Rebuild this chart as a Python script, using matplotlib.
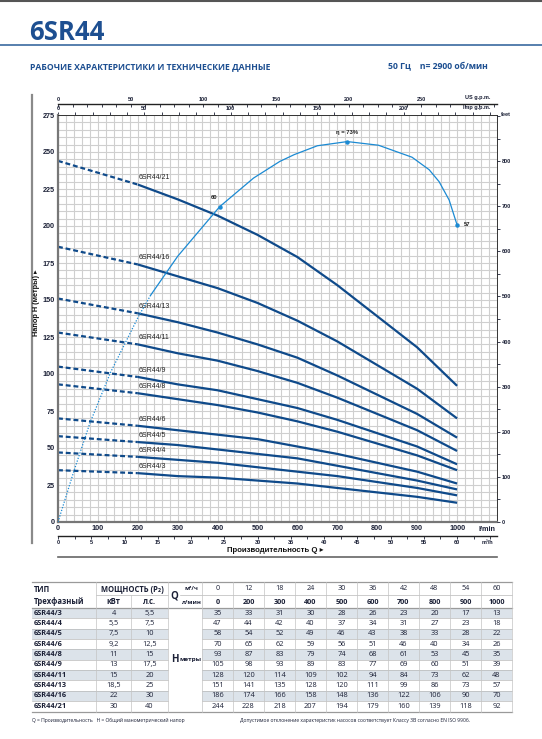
import matplotlib
matplotlib.use('Agg')
import matplotlib.pyplot as plt
from matplotlib.ticker import MultipleLocator
import numpy as np

plt.rcParams['font.family'] = ['Liberation Sans Narrow', 'Liberation Sans', 'DejaVu Sans']

# данные из таблицы
models = ['6SR44/3', '6SR44/4', '6SR44/5', '6SR44/6', '6SR44/8',
          '6SR44/9', '6SR44/11', '6SR44/13', '6SR44/16', '6SR44/21']
power_kw = ['4', '5,5', '7,5', '9,2', '11', '13', '15', '18,5', '22', '30']
power_hp = ['5,5', '7,5', '10', '12,5', '15', '17,5', '20', '25', '30', '40']
q_m3h = [0, 12, 18, 24, 30, 36, 42, 48, 54, 60]
q_lmin = [0, 200, 300, 400, 500, 600, 700, 800, 900, 1000]
heads = [
    [35, 33, 31, 30, 28, 26, 23, 20, 17, 13],
    [47, 44, 42, 40, 37, 34, 31, 27, 23, 18],
    [58, 54, 52, 49, 46, 43, 38, 33, 28, 22],
    [70, 65, 62, 59, 56, 51, 46, 40, 34, 26],
    [93, 87, 83, 79, 74, 68, 61, 53, 45, 35],
    [105, 98, 93, 89, 83, 77, 69, 60, 51, 39],
    [128, 120, 114, 109, 102, 94, 84, 73, 62, 48],
    [151, 141, 135, 128, 120, 111, 99, 86, 73, 57],
    [186, 174, 166, 158, 148, 136, 122, 106, 90, 70],
    [244, 228, 218, 207, 194, 179, 160, 139, 118, 92],
]

# кривая КПД
eff_q = [0, 40, 80, 131, 202, 232, 300, 405, 490, 556, 592, 650, 725, 803, 887, 930, 955, 980, 1000]
eff_v = [0, 9.8, 19, 28.6, 39.5, 43.5, 51, 60.5, 66, 69.2, 70.5, 72.2, 73, 72.3, 70, 67.6, 65.3, 61.8, 57]
eff_marks_q = [405, 725, 1000]
eff_marks_v = [60.5, 73, 57]
eff_marks_txt = ['60', 'η = 73%', '57']

BLUE = '#0f4a8a'
LBLUE = '#1b8ad3'
TXT = '#1b2036'
HEAD = '#1d4f91'

fig = plt.figure(figsize=(5.42, 7.39), dpi=100)

# фон страницы в пикселях
page = fig.add_axes([0, 0, 1, 1])
page.set_xlim(0, 542)
page.set_ylim(739, 0)
page.axis('off')

page.plot([0, 542], [0.8, 0.8], color='#555555', lw=1.5)
page.text(29, 40, '6SR44', fontsize=18.5, fontweight='bold', color=HEAD,
          family=['Open Sans', 'DejaVu Sans'], va='baseline')
page.plot([0, 542], [44.5, 44.5], color='#3a6aa0', lw=1.2)
page.text(30, 67, 'РАБОЧИЕ ХАРАКТЕРИСТИКИ И ТЕХНИЧЕСКИЕ ДАННЫЕ', fontsize=6.2,
          fontweight='bold', color=HEAD, family=['Open Sans', 'DejaVu Sans'], va='center')
page.text(488, 67, '50 Гц    n= 2900 об/мин', fontsize=6.2, fontweight='bold', color=HEAD,
          family=['Open Sans', 'DejaVu Sans'], va='center', ha='right')
page.plot([32, 32], [95, 543], color='#8a8a8a', lw=1.6)

# основная область графика
ax = fig.add_axes([58 / 542, 1 - 522 / 739, 439 / 542, 407 / 739])
ax.set_xlim(0, 1100)
ax.set_ylim(0, 275)
ax.set_xticks(np.arange(0, 1001, 100))
ax.set_yticks(np.arange(0, 276, 25))
ax.xaxis.set_minor_locator(MultipleLocator(20))
ax.yaxis.set_minor_locator(MultipleLocator(5))
ax.grid(which='both', color='#cfcfcf', lw=0.8)
ax.set_axisbelow(True)
ax.tick_params(which='both', length=0)
ax.tick_params(axis='both', labelsize=5.2, pad=2.5, colors=TXT)
for lab in ax.get_xticklabels() + ax.get_yticklabels():
    lab.set_fontweight('bold')
for s in ['left', 'bottom']:
    ax.spines[s].set_color('#777777')
    ax.spines[s].set_linewidth(1.6)
for s in ['top', 'right']:
    ax.spines[s].set_color('#333333')
    ax.spines[s].set_linewidth(0.7)

for name, h in zip(models, heads):
    ax.plot(q_lmin[:2], h[:2], color=BLUE, lw=1.6, dashes=(2.2, 1.3))
    ax.plot(q_lmin[1:], h[1:], color=BLUE, lw=1.6, solid_capstyle='butt', solid_joinstyle='round')
    ax.text(203, h[1] + 2.2, name, fontsize=5, color='#222222', va='bottom', ha='left')

# КПД на своей шкале
ax_eff = ax.twinx()
ax_eff.set_ylim(0, 78.1)
ax_eff.axis('off')
k = eff_q.index(232)
ax_eff.plot(eff_q[:k + 1], eff_v[:k + 1], color=LBLUE, lw=0.9, ls=(0, (1, 1.3)))
ax_eff.plot(eff_q[k:], eff_v[k:], color=LBLUE, lw=0.9, solid_joinstyle='round')
ax_eff.plot(eff_marks_q, eff_marks_v, 'o', color=LBLUE, ms=2.2)
ax_eff.text(eff_marks_q[0] - 5, eff_marks_v[0] + 1.3, eff_marks_txt[0], fontsize=4.2,
            fontweight='bold', ha='right', va='bottom', color='#222222')
ax_eff.text(eff_marks_q[1], eff_marks_v[1] + 1.3, eff_marks_txt[1], fontsize=4.2,
            fontweight='bold', ha='center', va='bottom', color='#222222')
ax_eff.text(eff_marks_q[2] + 18, eff_marks_v[2], eff_marks_txt[2], fontsize=4.2,
            fontweight='bold', ha='left', va='center', color='#222222')

# шкала в футах справа
ax_ft = ax.twinx()
ax_ft.set_ylim(0, 275 / 0.3048)
ax_ft.set_yticks(np.arange(0, 801, 100))
ax_ft.yaxis.set_minor_locator(MultipleLocator(50))
ax_ft.tick_params(axis='y', which='both', direction='out', length=2.5, width=0.6,
                  labelsize=4, pad=0.8, colors=TXT)
for lab in ax_ft.get_yticklabels():
    lab.set_fontweight('bold')
for s in ax_ft.spines.values():
    s.set_visible(False)
ax_ft.text(1.008, 1.0, 'feet', transform=ax.transAxes, fontsize=4, fontweight='bold',
           va='center', ha='left', color=TXT)

# верхние шкалы галлонов
sec_imp = ax.secondary_xaxis('top', functions=(lambda q: q / 4.33, lambda g: g * 4.33))
sec_imp.set_xticks(np.arange(0, 201, 50))
sec_imp.xaxis.set_minor_locator(MultipleLocator(10))
sec_imp.tick_params(which='both', direction='out', length=2.5, width=0.6,
                    labelsize=4, pad=0.3, colors=TXT)
sec_imp.spines['top'].set_linewidth(0.7)
for lab in sec_imp.get_xticklabels():
    lab.set_fontweight('bold')

sec_us = ax.secondary_xaxis(1.027, functions=(lambda q: q / 3.64, lambda g: g * 3.64))
sec_us.set_xticks(np.arange(0, 251, 50))
sec_us.xaxis.set_minor_locator(MultipleLocator(10))
sec_us.tick_params(which='both', direction='in', length=2.5, width=0.6,
                   labelsize=4, pad=1.5, colors=TXT)
sec_us.spines['top'].set_linewidth(1.0)
sec_us.spines['top'].set_color('#222222')
for lab in sec_us.get_xticklabels():
    lab.set_fontweight('bold')

sec_m3 = ax.secondary_xaxis(-0.034, functions=(lambda q: q * 0.06, lambda m: m / 0.06))
sec_m3.set_xticks(np.arange(0, 61, 5))
sec_m3.xaxis.set_minor_locator(MultipleLocator(2.5))
sec_m3.tick_params(which='both', direction='out', length=2.5, width=0.6,
                   labelsize=4, pad=0.8, colors=TXT)
sec_m3.spines['bottom'].set_linewidth(1.0)
sec_m3.spines['bottom'].set_color('#222222')
for lab in sec_m3.get_xticklabels():
    lab.set_fontweight('bold')

page.text(490, 97, 'US g.p.m.', fontsize=4, fontweight='bold', ha='right', va='center', color=TXT)
page.text(490, 107, 'Imp g.p.m.', fontsize=4, fontweight='bold', ha='right', va='center', color=TXT)
page.text(487, 529.5, 'l/min', fontsize=5.2, fontweight='bold', ha='center', va='center', color=TXT)
page.text(487, 543, 'm³/h', fontsize=4, fontweight='bold', ha='center', va='center', color=TXT)
page.text(275, 550.5, 'Производительность Q ▸', fontsize=5.6, fontweight='bold',
          ha='center', va='center', color='#111111')
page.plot([58, 497], [557, 557], color='#666666', lw=1.2)
page.text(37, 303, 'Напор H (метры) ▸', fontsize=5.3, fontweight='bold', rotation=90,
          ha='center', va='center', color='#111111')

# таблица
tf = ['Open Sans', 'DejaVu Sans']
col_edges = [32, 96, 131, 168, 202] + [202 + 31 * i for i in range(1, 11)]
num_cx = [217.5 + 31 * i for i in range(10)]
y_top, y_mid, y_hdr = 582, 595, 608
pitch = 10.35
for i in range(len(models)):
    y0 = y_hdr + pitch * i
    if i % 2 == 0:
        page.fill_between([32, 168], y0, y0 + pitch, color='#dce3ea', lw=0)
        page.fill_between([202, 512], y0, y0 + pitch, color='#dce3ea', lw=0)
    if i > 0:
        page.plot([32, 168], [y0, y0], color='#b8b8b8', lw=0.5)
        page.plot([202, 512], [y0, y0], color='#b8b8b8', lw=0.5)
y_end = y_hdr + pitch * len(models)
page.plot([32, 512], [y_top, y_top], color='#9a9a9a', lw=0.9)
page.plot([32, 512], [y_hdr, y_hdr], color='#9a9a9a', lw=0.9)
page.plot([32, 512], [y_end, y_end], color='#9a9a9a', lw=0.9)
page.plot([96, 168], [y_mid, y_mid], color='#b8b8b8', lw=0.5)
page.plot([180, 512], [y_mid, y_mid], color='#b8b8b8', lw=0.5)
for x in col_edges[1:]:
    ys = y_mid if x == 131 else y_top
    page.plot([x, x], [ys, y_end], color='#c4c4c4', lw=0.5)

page.text(34, 589, 'ТИП', fontsize=5.5, fontweight='bold', color=TXT, va='center', family=tf)
page.text(34, 602, 'Трехфазный', fontsize=5.5, fontweight='bold', color=TXT, va='center', family=tf)
page.text(132, 589, 'МОЩНОСТЬ (P₂)', fontsize=5.5, fontweight='bold', color=TXT,
          va='center', ha='center', family=tf)
page.text(113.5, 602, 'кВт', fontsize=5.5, fontweight='bold', color=TXT, va='center', ha='center', family=tf)
page.text(149.5, 602, 'л.с.', fontsize=5.5, fontweight='bold', color=TXT, va='center', ha='center', family=tf)
page.text(174, 596, 'Q', fontsize=7, fontweight='bold', color=TXT, va='center', ha='center', family=tf)
page.text(191, 589, 'м³/ч', fontsize=4.3, fontweight='bold', color=TXT, va='center', ha='center', family=tf)
page.text(191, 602, 'л/мин', fontsize=4.3, fontweight='bold', color=TXT, va='center', ha='center', family=tf)
for cx, qm, ql in zip(num_cx, q_m3h, q_lmin):
    page.text(cx, 589, str(qm), fontsize=5.2, color=TXT, va='center', ha='center', family=tf)
    page.text(cx, 602, str(ql), fontsize=5.2, fontweight='bold', color=TXT, va='center', ha='center', family=tf)
for i, (name, kw, hp, h) in enumerate(zip(models, power_kw, power_hp, heads)):
    yc = y_hdr + pitch * (i + 0.5)
    page.text(34, yc, name, fontsize=5.3, fontweight='bold', color=TXT, va='center', family=tf)
    page.text(113.5, yc, kw, fontsize=5.3, color=TXT, va='center', ha='center', family=tf)
    page.text(149.5, yc, hp, fontsize=5.3, color=TXT, va='center', ha='center', family=tf)
    for cx, v in zip(num_cx, h):
        page.text(cx, yc, str(v), fontsize=5.3, color=TXT, va='center', ha='center', family=tf)
page.text(175, 660, 'H', fontsize=7, fontweight='bold', color=TXT, va='center', ha='center', family=tf)
page.text(191, 660, 'метры', fontsize=4.6, fontweight='bold', color=TXT, va='center', ha='center', family=tf)

page.text(32, 720, 'Q = Производительность   H = Общий манометрический напор', fontsize=3.6,
          color=TXT, va='center', family=tf)
page.text(240, 720, 'Допустимое отклонение характеристик насосов соответствует Классу 3B согласно EN ISO 9906.',
          fontsize=3.6, color=TXT, va='center', family=tf)

fig.savefig('out.png', dpi=100)
